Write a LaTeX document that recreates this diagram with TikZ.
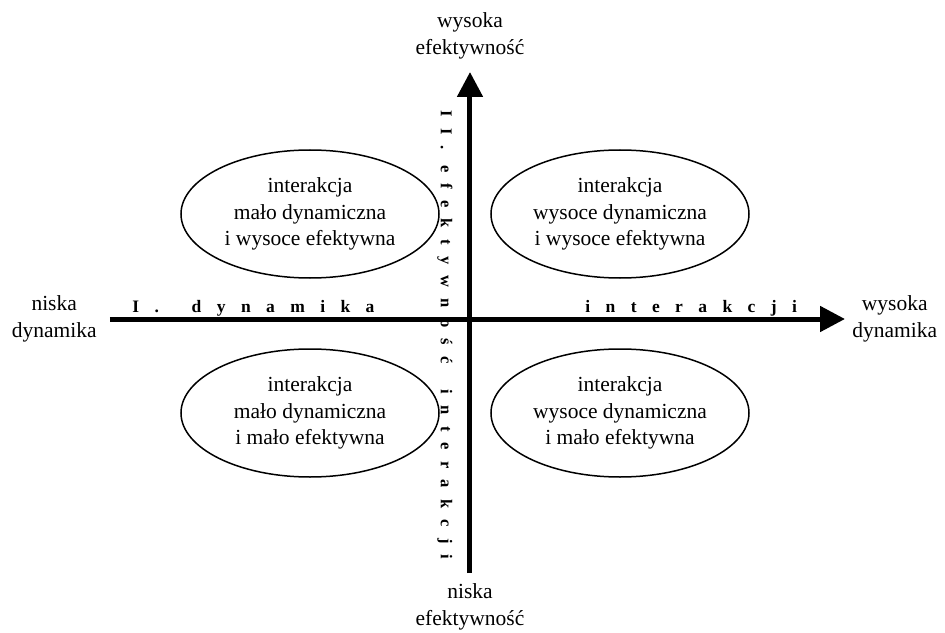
\documentclass[tikz,border=0pt]{standalone}
\usepackage{fontspec}
\setmainfont{Liberation Serif}
\newfontfamily\hspacedfont[LetterSpace=88]{Liberation Serif Bold}
\newfontfamily\vspacedfont[LetterSpace=68]{Liberation Serif Bold}
\usetikzlibrary{arrows.meta, shapes, positioning}

\begin{document}
\begin{tikzpicture}[x=1pt, y=1pt, thick]

    % Define styles
    \tikzstyle{quadrant} = [ellipse, draw, line width=1.5pt, inner sep=0pt,
        minimum width=258pt, minimum height=128pt, align=center,
        font=\fontsize{21.5}{26.5}\selectfont]
    \tikzstyle{endlabel} = [inner sep=0pt, align=center, font=\fontsize{21.5}{27}\selectfont]
    \tikzstyle{axis} = [draw, line width=5pt, -{Triangle[length=25pt, width=25pt]}]
    \tikzstyle{haxistitle} = [inner sep=0pt, font=\hspacedfont\fontsize{17.5}{17.5}\selectfont]
    \tikzstyle{vaxistitle} = [inner sep=0pt, rotate=-90, font=\vspacedfont\fontsize{16.5}{16.5}\selectfont]

    \useasboundingbox (-470,-313) rectangle (475,319);

    % Axis ends
    \coordinate (xl) at (-360,0);
    \coordinate (xr) at (375,0);
    \coordinate (yb) at (0,-254);
    \coordinate (yt) at (0,247);

    % Define nodes
    \node [endlabel, left=13pt of xl] (lowdyn) {niska\\dynamika};
    \node [endlabel, right=7pt of xr] (highdyn) {wysoka\\dynamika};
    \node [endlabel, above=12pt of yt] (higheff) {wysoka\\efektywność};
    \node [endlabel, below=10pt of yb] (loweff) {niska\\efektywność};

    \node [quadrant] (lodyn-hieff) at (-160,105) {interakcja\\mało dynamiczna\\i wysoce efektywna};
    \node [quadrant] (hidyn-hieff) at (150,105) {interakcja\\wysoce dynamiczna\\i wysoce efektywna};
    \node [quadrant] (lodyn-loeff) at (-160,-94) {interakcja\\mało dynamiczna\\i mało efektywna};
    \node [quadrant] (hidyn-loeff) at (150,-94) {interakcja\\wysoce dynamiczna\\i mało efektywna};

    % Draw axes
    \path [axis] (xl) -- (xr);
    \path [axis] (yb) -- (yt);

    % Axis titles
    \node [haxistitle, anchor=base west] (dyntitle) at (-338,7) {I.\hspace{13pt} dynamika};
    \node [haxistitle, anchor=base west] (inttitle) at (115,7) {interakcji};
    \node [vaxistitle, anchor=base west] (efftitle) at (-29,209) {II. efektywność\hspace{11pt} interakcji};

\end{tikzpicture}
\end{document}
